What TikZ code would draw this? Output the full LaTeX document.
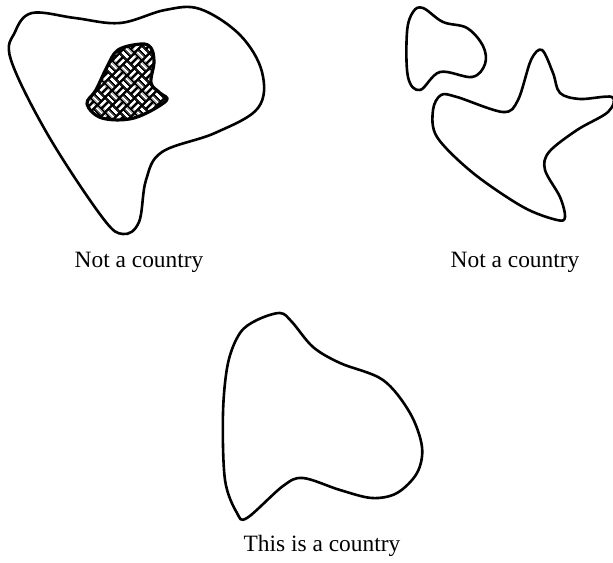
\documentclass[tikz,border=0pt]{standalone}
\usepackage{fontspec}
\setmainfont{Liberation Serif}
\usetikzlibrary{patterns.meta}

% basket weave fill for the hole
\tikzdeclarepattern{
  name=weave,
  type=uncolored,
  bottom left={(0pt,0pt)},
  top right={(10.6pt,10.6pt)},
  tile size={(10.6pt,10.6pt)},
  tile transformation={rotate=45},
  code={
    \tikzset{every path/.style={line width=1.4pt}}
    % horizontal pairs
    \draw (0.6pt,1.325pt) -- (4.7pt,1.325pt);
    \draw (0.6pt,3.975pt) -- (4.7pt,3.975pt);
    \draw (5.9pt,6.625pt) -- (10pt,6.625pt);
    \draw (5.9pt,9.275pt) -- (10pt,9.275pt);
    % vertical pairs
    \draw (6.625pt,0.6pt) -- (6.625pt,4.7pt);
    \draw (9.275pt,0.6pt) -- (9.275pt,4.7pt);
    \draw (1.325pt,5.9pt) -- (1.325pt,10pt);
    \draw (3.975pt,5.9pt) -- (3.975pt,10pt);
  }
}

\begin{document}
\begin{tikzpicture}[
    x=0.5pt, y=-0.5pt,
    every node/.style={font=\fontsize{11.7}{14}\selectfont},
    region/.style={line width=1.3pt, line join=round},
    hole/.style={region, line width=1.6pt, preaction={fill=black}, pattern=weave, pattern color=white}
]
\useasboundingbox (0,0) rectangle (613,562);

% ===== TOP LEFT: region with a hole =====
\draw[region] plot[smooth cycle, tension=0.6] coordinates {
    (32,13) (75,18) (120,23) (165,10) (200,9) (240,35) (262,72)
    (258,108) (215,133) (162,152) (146,180) (139,222) (123,234)
    (102,217) (48,135) (11,60) (15,32)};

% --- the hole ---
\draw[hole] plot[smooth cycle, tension=0.6] coordinates {
    (141,44) (118,50) (107,67) (96,90) (87,104) (102,118) (134,118)
    (166,101) (160,93) (151,83) (154,62) (151,48)};

\node[anchor=base] (lblA) at (139,267) {Not a country};

% ===== TOP RIGHT: two pieces =====
\draw[region] plot[smooth cycle, tension=0.6] coordinates {
    (423,8) (443,22) (467,28) (483,46) (485,64) (472,77) (440,72)
    (420,90) (408,77) (407,32) (413,12)};

\draw[region] plot[smooth cycle, tension=0.55] coordinates {
    (542,50) (553,73) (560,93) (580,99) (612,97) (608,112) (577,130)
    (549,152) (545,170) (560,197) (565,217) (557,220) (523,207)
    (473,173) (437,137) (433,110) (441,95) (457,97) (503,112)
    (518,100) (531,60)};

\node[anchor=base] (lblB) at (515,267) {Not a country};

% ===== BOTTOM: one piece, no hole =====
\draw[region] plot[smooth cycle, tension=0.55] coordinates {
    (280,313) (292,322) (313,347) (340,363) (383,380) (410,413)
    (422,447) (417,473) (397,493) (372,498) (340,490) (303,478)
    (283,486) (247,518) (237,513) (225,480) (223,413) (228,363)
    (240,333) (257,320)};

\node[anchor=base] (lblC) at (322,551) {This is a country};

\end{tikzpicture}
\end{document}
